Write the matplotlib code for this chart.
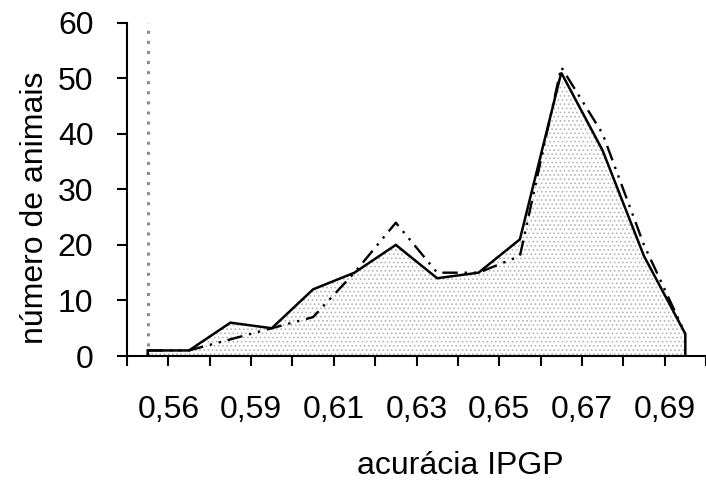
import numpy as np
import matplotlib
matplotlib.use("Agg")
import matplotlib.pyplot as plt

# data
tick_labels = ["0,56", "0,59", "0,61", "0,63", "0,65", "0,67", "0,69"]
solid = [1, 1, 6, 5, 12, 15, 20, 14, 15, 21, 51, 37, 18, 4]
dashdot = [1, 1, 3, 5, 7, 15, 24, 15, 15, 18, 52, 40, 20, 4]

plt.rcParams['font.family'] = ['Liberation Sans', 'DejaVu Sans']
plt.rcParams['font.size'] = 23
plt.rcParams['hatch.linewidth'] = 0.7

fig = plt.figure(figsize=(7.06, 4.8), dpi=100)
ax = fig.add_axes([127/706, 1 - 356/480, 1 - 127/706, (356 - 22.7)/480])

x = np.arange(len(solid))

# filled area with black outline
px = np.concatenate([[x[0]], x, [x[-1]]])
py = np.concatenate([[0], solid, [0]])
ax.fill(px, py, facecolor='white', edgecolor='#b4b4b4', linewidth=0, hatch='....', zorder=1)
ax.plot(px, py, color='black', lw=1.8, zorder=3, solid_joinstyle='miter')

# dash-dot-dot series
ax.plot(x, dashdot, color='black', lw=1.7, linestyle=(0, (6.5, 2.9, 1, 2.9, 1, 2.9)), zorder=4)

# grey dotted vertical line
ax.axvline(x[0], color='#8c8c8c', lw=2.2, linestyle=(0, (1, 2.3)), zorder=2)

ax.set_xlim(-0.5, -0.5 + 579/41.92)
ax.set_ylim(0, 60)
ax.set_yticks(np.arange(0, 61, 10))

xt = np.arange(-0.5, 14, 1.0)
labels = []
k = 0
for i in range(len(xt)):
    if i % 2 == 1 and k < len(tick_labels):
        labels.append(tick_labels[k])
        k += 1
    else:
        labels.append("")
ax.set_xticks(xt, labels=labels)

for s in ['top', 'right']:
    ax.spines[s].set_visible(False)
for s in ['left', 'bottom']:
    ax.spines[s].set_linewidth(1.5)
ax.tick_params(axis='both', direction='out', length=7.2, width=1.5, colors='black')
ax.tick_params(axis='x', pad=21)
ax.tick_params(axis='y', pad=17)

ax.set_xlabel("acurácia IPGP")
ax.xaxis.set_label_coords((460 - 127)/579, (356 - 451)/333.3)
ax.set_ylabel("número de animais")
ax.yaxis.set_label_coords((50 - 127)/579, (356 - 208)/333.3)

fig.savefig("out.png", dpi=100)
